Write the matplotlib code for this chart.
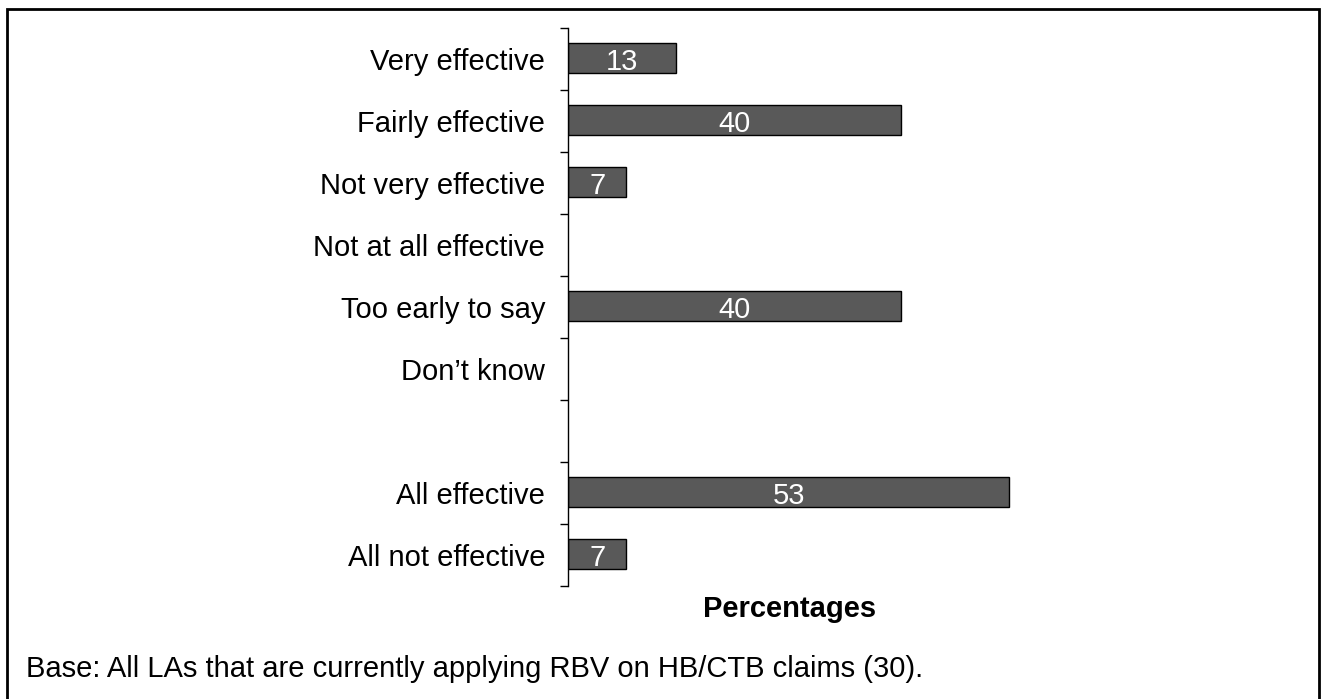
import matplotlib
matplotlib.use('Agg')
import matplotlib.pyplot as plt
from matplotlib.patches import Rectangle
import numpy as np

plt.rcParams['font.family'] = ['Liberation Sans', 'DejaVu Sans']

# rows top to bottom; '' is the empty spacer row
categories = ['Very effective', 'Fairly effective', 'Not very effective',
              'Not at all effective', 'Too early to say', "Don\u2019t know",
              '', 'All effective', 'All not effective']
values = [13, 40, 7, 0, 40, 0, 0, 53, 7]
value_labels = ['13', '40', '7', '', '40', '', '', '53', '7']

base_note = 'Base: All LAs that are currently applying RBV on HB/CTB claims (30).'

fig = plt.figure(figsize=(13.22, 6.99), dpi=100)
ax = fig.add_axes([568 / 1322, 1 - 586 / 699, 458 / 1322, 558 / 699])

y = np.arange(len(categories))
for yi, v, lab in zip(y, values, value_labels):
    if v <= 0:
        continue
    ax.barh(yi - 0.02, v, height=0.48, color='#595959', edgecolor='black', linewidth=1.0)
    ax.text(v / 2, yi, lab, ha='center', va='center_baseline', color='white', fontsize=21)

ax.set_ylim(len(categories) - 0.5, -0.5)
ax.set_xlim(0, 55)

ax.set_yticks(y)
ax.set_yticklabels(categories, fontsize=21)
ax.set_yticks(np.arange(-0.5, len(categories), 1.0), minor=True)
ax.tick_params(axis='y', which='major', length=0, pad=16.5)
ax.tick_params(axis='y', which='minor', length=6, width=1, direction='out')
ax.set_xticks([])

for s in ['top', 'right', 'bottom']:
    ax.spines[s].set_visible(False)
ax.spines['left'].set_linewidth(1)

fig.text(790 / 1322, 1 - 617 / 699, 'Percentages', fontsize=21, fontweight='bold',
         ha='center', va='baseline')

fig.text(26 / 1322, 1 - 677 / 699, base_note, fontsize=21, ha='left', va='baseline')

# outer frame round the figure (bottom edge falls outside the picture)
fig.patches.append(Rectangle((7 / 1322, -0.05), 1312 / 1322, 1.05 - 9 / 699,
                             transform=fig.transFigure, fill=False,
                             edgecolor='black', linewidth=2, clip_on=False))

fig.savefig('out.png', dpi=100)
